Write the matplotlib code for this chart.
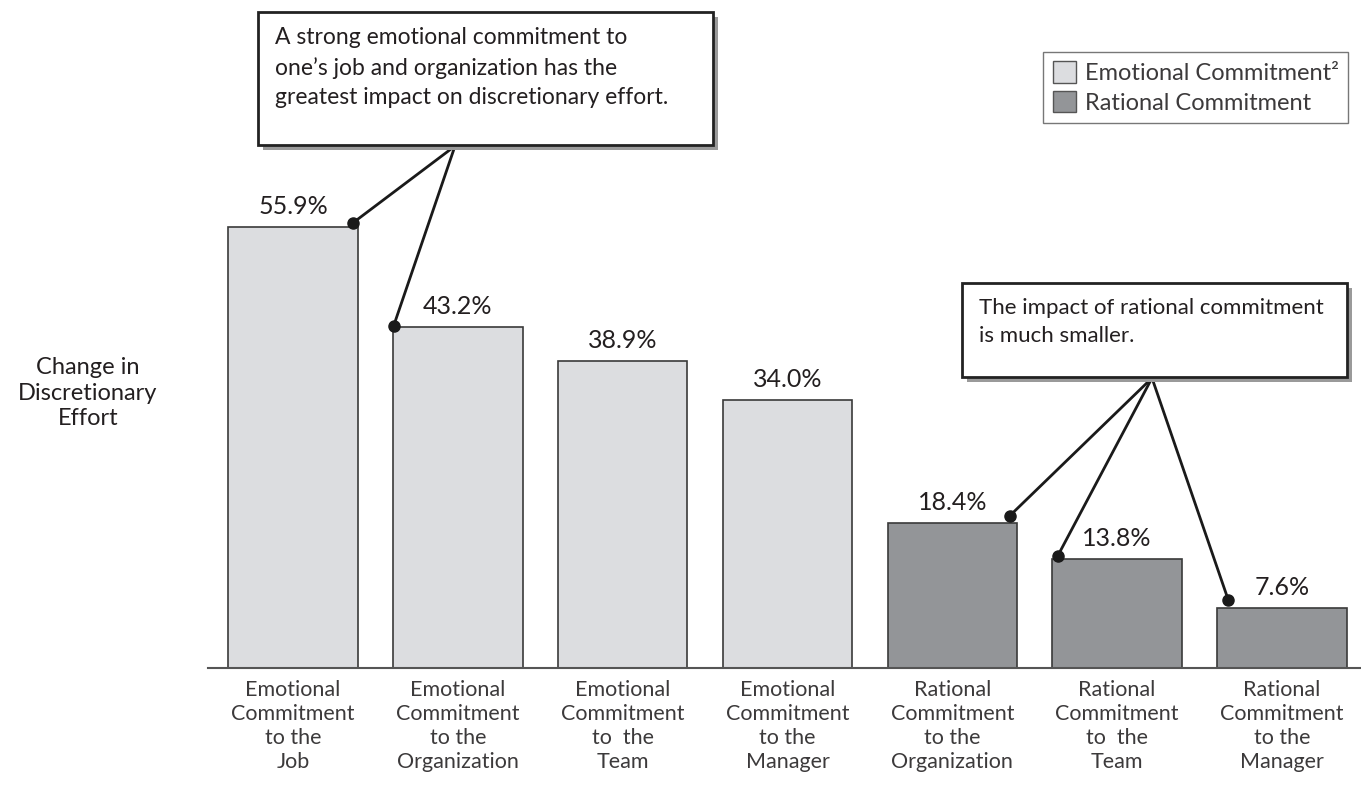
import matplotlib.pyplot as plt
plt.switch_backend('agg')
from matplotlib.patches import Rectangle, Patch

plt.rcParams['font.family'] = ['Lato', 'DejaVu Sans']

categories = [
    'Emotional\nCommitment\nto the\nJob',
    'Emotional\nCommitment\nto the\nOrganization',
    'Emotional\nCommitment\nto  the\nTeam',
    'Emotional\nCommitment\nto the\nManager',
    'Rational\nCommitment\nto the\nOrganization',
    'Rational\nCommitment\nto  the\nTeam',
    'Rational\nCommitment\nto the\nManager',
]
effort_change = [55.9, 43.2, 38.9, 34.0, 18.4, 13.8, 7.6]
commitment_type = ['Emotional', 'Emotional', 'Emotional', 'Emotional',
                   'Rational', 'Rational', 'Rational']
series_names = ['Emotional Commitment\u00b2', 'Rational Commitment']

callout_top = 'A strong emotional commitment to\none\u2019s job and organization has the\ngreatest impact on discretionary effort.'
callout_low = 'The impact of rational commitment\nis much smaller.'

colors = {'Emotional': '#dcdde0', 'Rational': '#939598'}
edge = '#3a3a3a'
text_color = '#231f20'
light_text = '#3c3a3b'

W, H = 1361, 785
fig = plt.figure(figsize=(W / 100, H / 100), dpi=100)
ax = fig.add_axes([208 / W, (H - 668) / H, 1 - 208 / W, 668 / H])

x = list(range(len(effort_change)))
bar_w = 0.785
ax.bar(x, effort_change, width=bar_w,
       color=[colors[t] for t in commitment_type],
       edgecolor=edge, linewidth=1.2, zorder=2)

for xi, v in zip(x, effort_change):
    ax.text(xi, v + 1.1, f'{v:.1f}%', ha='center', va='bottom',
            fontsize=18, color=text_color)

ax.set_xlim(-0.516, 6.48)
ax.set_ylim(0, 84.6)
ax.set_xticks(x)
ax.set_xticklabels(categories, fontsize=15.5, color=light_text,
                   linespacing=1.24)
ax.tick_params(axis='x', length=0, pad=9)
ax.set_yticks([])
for s in ['top', 'right', 'left']:
    ax.spines[s].set_visible(False)
ax.spines['bottom'].set_color('#555555')
ax.spines['bottom'].set_linewidth(1.5)

fig.text(88 / W, 1 - 393 / H, 'Change in\nDiscretionary\nEffort', ha='center',
         va='center', fontsize=17, color=text_color, linespacing=1.25)


def callout(x0, y0, x1, y1, text, size):
    # box with a drop shadow, coordinates in pixels from the top left
    shadow = Rectangle(((x0 + 5) / W, 1 - (y1 + 5) / H), (x1 - x0) / W,
                       (y1 - y0) / H, transform=fig.transFigure,
                       facecolor='#9a9a9a', edgecolor='none', zorder=3)
    box = Rectangle((x0 / W, 1 - y1 / H), (x1 - x0) / W, (y1 - y0) / H,
                    transform=fig.transFigure, facecolor='white',
                    edgecolor='#222222', linewidth=2, zorder=4)
    fig.add_artist(shadow)
    fig.add_artist(box)
    fig.text((x0 + 17) / W, 1 - (y0 + 15) / H, text, ha='left', va='top',
             fontsize=size, color=text_color, linespacing=1.5, zorder=5)


def pointer(xd, yd, px, py):
    ax.annotate('', xy=(xd, yd), xycoords='data',
                xytext=(px, H - py), textcoords='figure pixels',
                arrowprops=dict(arrowstyle='-', color='#1a1a1a', lw=2,
                                shrinkA=0, shrinkB=0), zorder=6)
    ax.plot(xd, yd, 'o', color='#1a1a1a', markersize=8, zorder=7,
            clip_on=False)


callout(258, 12, 713, 145, callout_top, 16.5)
callout(962, 283, 1347, 377, callout_low, 16)

pointer(0.365, 56.4, 455, 146)
pointer(0.61, 43.3, 455, 146)
pointer(4.35, 19.3, 1152, 378)
pointer(4.64, 14.2, 1152, 378)
pointer(5.675, 8.6, 1152, 378)

handles = [Patch(facecolor=colors['Emotional'], edgecolor='#555555'),
           Patch(facecolor=colors['Rational'], edgecolor='#555555')]
leg = fig.legend(handles, series_names, loc='upper right',
                 bbox_to_anchor=(1348 / W, 1 - 52 / H), frameon=True,
                 fancybox=False, fontsize=17, handlelength=1.0,
                 handleheight=1.0, handletextpad=0.35, labelspacing=0.3,
                 borderpad=0.4, borderaxespad=0)
leg.get_frame().set_edgecolor('#555555')
leg.get_frame().set_linewidth(1)
for t in leg.get_texts():
    t.set_color(light_text)

fig.savefig('out.png', dpi=100)
